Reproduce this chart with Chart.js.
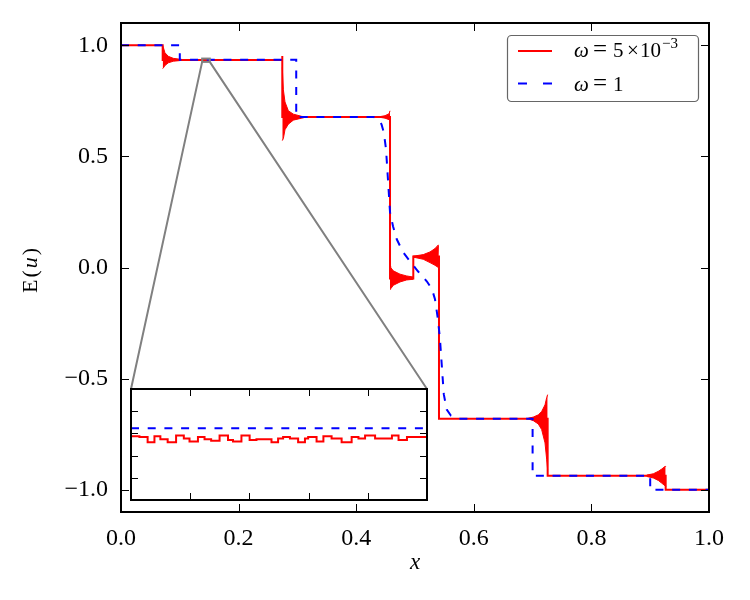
<!DOCTYPE html>
<html>
<head>
<meta charset="utf-8">
<script src="https://cdn.jsdelivr.net/npm/chart.js@4.4.1/dist/chart.umd.min.js"></script>
<style>
  html, body { margin: 0; padding: 0; background: #fff; }
  #wrap { position: relative; width: 750px; height: 600px; }
  #main { position: absolute; left: 0; top: 0; }
  #inset { position: absolute; }
</style>
</head>
<body>
<div id="wrap">
  <canvas id="main" width="750" height="600"></canvas>
  <canvas id="inset"></canvas>
</div>
<script>
/* E(u) for two relaxation parameters, with a zoom on the first plateau */

const SERIF = '"Liberation Serif", "DejaVu Serif", serif';
const RED = "#ff0000", BLUE = "#0000ff", GRAY = "#808080";

const X_TICKS = [0, 0.2, 0.4, 0.6, 0.8, 1.0];
const Y_TICKS = [-1.0, -0.5, 0.0, 0.5, 1.0];

// omega = 1 (smooth, dashed blue)
const BLUE_X = [0, 0.100, 0.100, 0.298, 0.298, 0.430, 0.4348, 0.443, 0.447, 0.4507, 0.454, 0.4575,
  0.4626, 0.469, 0.4796, 0.4915, 0.505, 0.520, 0.529, 0.534, 0.539, 0.5425, 0.546, 0.549, 0.554,
  0.561, 0.573, 0.700, 0.700, 0.900, 0.900, 1.0];
const BLUE_Y = [1.0, 1.0, 0.935, 0.935, 0.677, 0.677, 0.672, 0.645, 0.607, 0.533, 0.397, 0.249,
  0.186, 0.127, 0.069, 0.028, -0.017, -0.062, -0.098, -0.143, -0.233, -0.323, -0.458, -0.571, -0.639,
  -0.666, -0.68, -0.68, -0.937, -0.937, -1.0, -1.0];

// omega = 5e-3 (red): plateaus and jumps
const RED_X = [0, 0.0709, 0.0709, 0.2743, 0.2743, 0.2743, 0.4575, 0.4575, 0.4971, 0.4971,
  0.5408, 0.5408, 0.7256, 0.7256, 0.9263, 0.9263, 1.0];
const RED_Y = [1.0, 1.0, 0.9334, 0.9334, 0.951, 0.677, 0.677, -0.05, -0.05, 0.05,
  0.05, -0.68, -0.68, -0.937, -0.937, -1.0, -1.0];

// oscillation envelopes next to the jumps (upper / lower)
const OSC1_X = [0.0709, 0.0720, 0.0748, 0.0805, 0.0889, 0.1003, 0.1030];
const OSC1_HI = [0.998, 0.990, 0.966, 0.950, 0.941, 0.937, 0.9334];
const OSC1_LO = [0.895, 0.898, 0.909, 0.921, 0.928, 0.931, 0.9334];

const OSC2_X = [0.2743, 0.2761, 0.2789, 0.2846, 0.2931, 0.3073, 0.3158];
const OSC2_HI = [0.90, 0.80, 0.745, 0.705, 0.690, 0.680, 0.677];
const OSC2_LO = [0.571, 0.580, 0.620, 0.645, 0.663, 0.672, 0.677];

const OSC3_X = [0.4370, 0.4490, 0.4560, 0.4575];
const OSC3_HI = [0.677, 0.683, 0.692, 0.705];
const OSC3_LO = [0.677, 0.672, 0.665, 0.660];

const OSC4_X = [0.4575, 0.4586, 0.4631, 0.4745, 0.4858, 0.4971];
const OSC4_HI = [0.005, 0.0, -0.015, -0.030, -0.038, -0.043];
const OSC4_LO = [-0.098, -0.096, -0.080, -0.065, -0.056, -0.053];

const OSC5_X = [0.4971, 0.5000, 0.5141, 0.5255, 0.5340, 0.5397, 0.5408];
const OSC5_HI = [0.052, 0.052, 0.058, 0.070, 0.085, 0.102, 0.102];
const OSC5_LO = [0.045, 0.045, 0.037, 0.022, 0.010, 0.000, 0.000];

const OSC6_X = [0.6927, 0.7012, 0.7097, 0.7154, 0.7211, 0.7240, 0.7256];
const OSC6_HI = [-0.678, -0.673, -0.663, -0.648, -0.618, -0.585, -0.572];
const OSC6_LO = [-0.681, -0.689, -0.704, -0.729, -0.789, -0.865, -0.910];

const OSC7_X = [0.8940, 0.9053, 0.9138, 0.9195, 0.9252, 0.9263];
const OSC7_HI = [-0.934, -0.928, -0.917, -0.907, -0.895, -0.893];
const OSC7_LO = [-0.940, -0.947, -0.958, -0.970, -0.982, -0.985];

// zoomed window
const INSET_X_RANGE = [0.138, 0.151];
const INSET_Y_RANGE = [0.925, 0.940];
const INSET_X_TICKS = [0.1406, 0.1432, 0.1458, 0.1484];
const INSET_Y_TICKS = [0.928, 0.931, 0.934, 0.937];
const INSET_BLUE_X = [0.138, 0.151];
const INSET_BLUE_Y = [0.9347, 0.9347];
const INSET_RED_X = [0.13800, 0.13837, 0.13873, 0.13903, 0.13929, 0.13961, 0.13998, 0.14032,
  0.14057, 0.14094, 0.14123, 0.14152, 0.14189, 0.14226, 0.14248, 0.14285, 0.14321, 0.14351,
  0.14417, 0.14446, 0.14468, 0.14498, 0.14534, 0.14564, 0.14578, 0.14615, 0.14645, 0.14681,
  0.14725, 0.14769, 0.14799, 0.14828, 0.14872, 0.14902, 0.14946, 0.14975, 0.15012, 0.15049, 0.15100];
const INSET_RED_Y = [0.9329, 0.9336, 0.9335, 0.9328, 0.9336, 0.9332, 0.9328, 0.9337,
  0.9333, 0.9329, 0.9335, 0.9332, 0.9330, 0.9337, 0.9331, 0.9329, 0.9337, 0.9331,
  0.9332, 0.9328, 0.9333, 0.9335, 0.9333, 0.9328, 0.9333, 0.9335, 0.9329, 0.9336,
  0.9333, 0.9328, 0.9335, 0.9333, 0.9337, 0.9333, 0.9333, 0.9337, 0.9331, 0.9335, 0.9335];

// where the inset sits, as fractions of the main plot area
const INSET_POS = { left: 0.017, right: 0.5204, top: 0.7485, bottom: 0.9755 };

const pts = (xs, ys) => xs.map((x, i) => ({ x, y: ys[i] }));

function envelope(xs, hi, lo) {
  const base = { borderColor: RED, borderWidth: 1, pointRadius: 0, tension: 0 };
  return [
    { ...base, data: pts(xs, hi), fill: false },
    { ...base, data: pts(xs, lo), fill: "-1", backgroundColor: RED },
  ];
}

function insetRect(a) {
  const w = a.right - a.left, h = a.bottom - a.top;
  return {
    left: a.left + INSET_POS.left * w,
    right: a.left + INSET_POS.right * w,
    top: a.top + INSET_POS.top * h,
    bottom: a.top + INSET_POS.bottom * h,
  };
}

function inwardTicks(ctx, a, xs, ys, xScale, yScale, len) {
  ctx.beginPath();
  xs.forEach((v) => {
    const px = Math.round(xScale.getPixelForValue(v)) + 0.5;
    ctx.moveTo(px, a.bottom); ctx.lineTo(px, a.bottom - len);
    ctx.moveTo(px, a.top); ctx.lineTo(px, a.top + len);
  });
  ys.forEach((v) => {
    const py = Math.round(yScale.getPixelForValue(v)) + 0.5;
    ctx.moveTo(a.left, py); ctx.lineTo(a.left + len, py);
    ctx.moveTo(a.right, py); ctx.lineTo(a.right - len, py);
  });
  ctx.stroke();
}

function pieces(ctx, list, y) {
  list.forEach(([txt, x, font, dy]) => {
    ctx.font = font;
    ctx.fillText(txt, x, y + (dy || 0));
  });
}

const mainDecor = {
  id: "mainDecor",
  afterDatasetsDraw(chart) {
    const { ctx, chartArea: a, scales: { x, y } } = chart;
    ctx.save();

    // zoom window and connectors to the inset
    const zx0 = x.getPixelForValue(INSET_X_RANGE[0]), zx1 = x.getPixelForValue(INSET_X_RANGE[1]);
    const zy0 = y.getPixelForValue(INSET_Y_RANGE[1]), zy1 = y.getPixelForValue(INSET_Y_RANGE[0]);
    const r = insetRect(a);
    ctx.strokeStyle = GRAY;
    ctx.lineWidth = 2;
    ctx.strokeRect(zx0, zy0, zx1 - zx0, zy1 - zy0);
    ctx.beginPath();
    ctx.moveTo(zx0, zy1); ctx.lineTo(r.left, r.top);
    ctx.moveTo(zx1, zy1); ctx.lineTo(r.right, r.top);
    ctx.stroke();

    // frame + ticks
    ctx.strokeStyle = "#000";
    ctx.lineWidth = 2;
    ctx.strokeRect(a.left, a.top, a.right - a.left, a.bottom - a.top);
    ctx.lineWidth = 1;
    inwardTicks(ctx, a, X_TICKS, Y_TICKS, x, y, 8);

    // legend
    const lx = a.right - 202, ly = a.top + 12;
    ctx.beginPath();
    ctx.roundRect(lx + 0.5, ly + 0.5, 191, 66, 4);
    ctx.fillStyle = "#fff";
    ctx.fill();
    ctx.strokeStyle = "#666";
    ctx.lineWidth = 1.2;
    ctx.stroke();

    ctx.lineWidth = 2;
    ctx.strokeStyle = RED;
    ctx.beginPath(); ctx.moveTo(lx + 11, ly + 16); ctx.lineTo(lx + 45, ly + 16); ctx.stroke();
    ctx.strokeStyle = BLUE;
    ctx.setLineDash([9, 16]);
    ctx.beginPath(); ctx.moveTo(lx + 11, ly + 48.5); ctx.lineTo(lx + 45, ly + 48.5); ctx.stroke();
    ctx.setLineDash([]);

    ctx.fillStyle = "#000";
    ctx.textBaseline = "alphabetic";
    ctx.textAlign = "left";
    const it = "italic 21px " + SERIF, rm = "21px " + SERIF, eq = "25px " + SERIF, sm = "15px " + SERIF;
    pieces(ctx, [["ω", lx + 67, it], ["=", lx + 86, eq], ["5", lx + 106, rm],
      ["×", lx + 120, rm], ["10", lx + 133, rm], ["−3", lx + 155, sm, -9]], ly + 22);
    pieces(ctx, [["ω", lx + 67, it], ["=", lx + 86, eq], ["1", lx + 106, rm]], ly + 56);

    // axis titles
    ctx.textBaseline = "middle";
    ctx.font = "italic 23px " + SERIF;
    ctx.textAlign = "center";
    ctx.fillText("x", (a.left + a.right) / 2, a.bottom + 51);

    ctx.translate(31, (a.top + a.bottom) / 2 + 3);
    ctx.rotate(-Math.PI / 2);
    const parts = [["E", "22px " + SERIF], ["(", "22px " + SERIF], ["u", "italic 22px " + SERIF], [")", "22px " + SERIF]];
    const gap = 2;
    let total = 0;
    parts.forEach(([t, f]) => { ctx.font = f; total += ctx.measureText(t).width + gap; });
    let cx = -(total - gap) / 2;
    ctx.textAlign = "left";
    parts.forEach(([t, f]) => { ctx.font = f; ctx.fillText(t, cx, 0); cx += ctx.measureText(t).width + gap; });
    ctx.restore();
  },
};

const fixedTicks = (list) => (scale) => { scale.ticks = list.map((v) => ({ value: v })); };
const tickFont = { family: SERIF, size: 24 };

const mainChart = new Chart(document.getElementById("main"), {
  type: "line",
  data: {
    datasets: [
      { data: pts(BLUE_X, BLUE_Y), borderColor: BLUE, borderWidth: 2, borderDash: [8, 8.7],
        pointRadius: 0, fill: false, tension: 0 },
      { data: pts(RED_X, RED_Y), borderColor: RED, borderWidth: 2, pointRadius: 0, fill: false, tension: 0 },
      ...envelope(OSC1_X, OSC1_HI, OSC1_LO),
      ...envelope(OSC2_X, OSC2_HI, OSC2_LO),
      ...envelope(OSC3_X, OSC3_HI, OSC3_LO),
      ...envelope(OSC4_X, OSC4_HI, OSC4_LO),
      ...envelope(OSC5_X, OSC5_HI, OSC5_LO),
      ...envelope(OSC6_X, OSC6_HI, OSC6_LO),
      ...envelope(OSC7_X, OSC7_HI, OSC7_LO),
    ],
  },
  options: {
    responsive: false,
    animation: false,
    devicePixelRatio: 1,
    layout: { padding: { top: 23, right: 41, left: 0, bottom: 0 } },
    plugins: { legend: { display: false }, tooltip: { enabled: false } },
    scales: {
      x: {
        type: "linear", min: 0, max: 1,
        afterBuildTicks: fixedTicks(X_TICKS),
        afterFit: (s) => { s.height = 88; },
        grid: { display: false }, border: { display: false },
        ticks: { font: tickFont, color: "#000", padding: 4, maxRotation: 0,
          callback: (v) => v.toFixed(1) },
      },
      y: {
        type: "linear", min: -1.1, max: 1.1,
        afterBuildTicks: fixedTicks(Y_TICKS),
        afterFit: (s) => { s.width = 121; },
        grid: { display: false }, border: { display: false },
        ticks: { font: tickFont, color: "#000", padding: 5,
          callback: (v) => v.toFixed(1).replace("-", "\u2212") },
      },
    },
  },
  plugins: [mainDecor],
});

// inset chart placed over the lower-left of the main plot
const r = insetRect(mainChart.chartArea);
const PAD = 2;
const insetCanvas = document.getElementById("inset");
insetCanvas.width = Math.round(r.right - r.left) + 2 * PAD;
insetCanvas.height = Math.round(r.bottom - r.top) + 2 * PAD;
insetCanvas.style.left = Math.round(r.left) - PAD + "px";
insetCanvas.style.top = Math.round(r.top) - PAD + "px";

const insetDecor = {
  id: "insetDecor",
  beforeDatasetsDraw(chart) {
    const { ctx, chartArea: a } = chart;
    ctx.save();
    ctx.fillStyle = "#fff";
    ctx.fillRect(a.left, a.top, a.right - a.left, a.bottom - a.top);
    ctx.restore();
  },
  afterDatasetsDraw(chart) {
    const { ctx, chartArea: a, scales: { x, y } } = chart;
    ctx.save();
    ctx.strokeStyle = "#000";
    ctx.lineWidth = 2;
    ctx.strokeRect(a.left, a.top, a.right - a.left, a.bottom - a.top);
    ctx.lineWidth = 1;
    inwardTicks(ctx, a, INSET_X_TICKS, INSET_Y_TICKS, x, y, 7);
    ctx.restore();
  },
};

const hidden = (list, fitKey) => ({
  type: "linear",
  afterBuildTicks: fixedTicks(list),
  afterFit: (s) => { s[fitKey] = 0; },
  grid: { display: false }, border: { display: false }, ticks: { display: false },
});

new Chart(insetCanvas, {
  type: "line",
  data: {
    datasets: [
      { data: pts(INSET_BLUE_X, INSET_BLUE_Y), borderColor: BLUE, borderWidth: 2,
        borderDash: [8, 8.7], pointRadius: 0, fill: false },
      { data: pts(INSET_RED_X, INSET_RED_Y), borderColor: RED, borderWidth: 2,
        pointRadius: 0, fill: false, stepped: "after" },
    ],
  },
  options: {
    responsive: false,
    animation: false,
    devicePixelRatio: 1,
    layout: { padding: PAD },
    plugins: { legend: { display: false }, tooltip: { enabled: false } },
    scales: {
      x: { ...hidden(INSET_X_TICKS, "height"), min: INSET_X_RANGE[0], max: INSET_X_RANGE[1] },
      y: { ...hidden(INSET_Y_TICKS, "width"), min: INSET_Y_RANGE[0], max: INSET_Y_RANGE[1] },
    },
  },
  plugins: [insetDecor],
});
</script>
</body>
</html>
